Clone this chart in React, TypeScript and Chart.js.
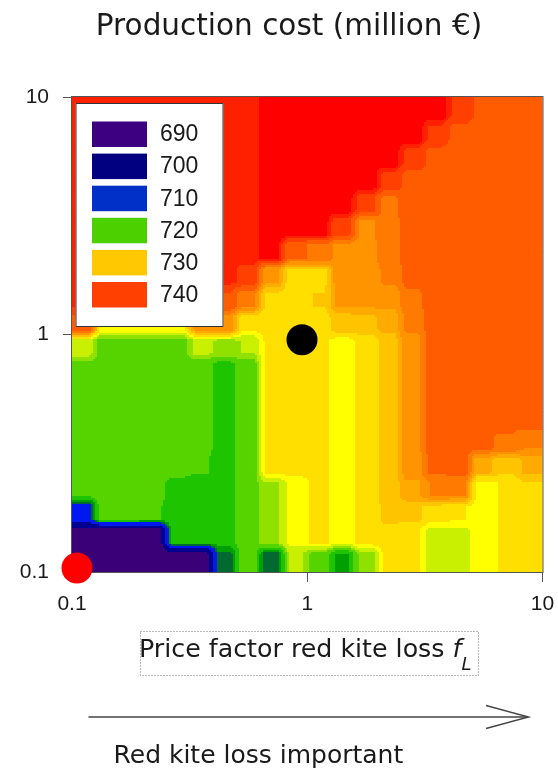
import React, { useEffect, useRef } from 'react';
import { Chart, registerables } from 'chart.js';

Chart.register(...registerables);

// ---- axis ticks ----
const xTickValues = [0.1, 1, 10];
const xTickLabels = ['0.1', '1', '10'];
const yTickValues = [0.1, 1, 10];
const yTickLabels = ['0.1', '1', '10'];

// ---- legend ----
const legendValues = [690, 700, 710, 720, 730, 740];
const legendColors = ['#3d0080', '#000080', '#0030c8', '#4cd000', '#ffc800', '#ff4000'];

// ---- colour bands of the production cost map (million €) ----
const bandLimits = [695, 704, 710.5, 713, 715.5, 718.3, 721.3, 723.5, 725.8, 728, 730.5, 732.5, 734.5, 737, 739.5, 742.3, 744.5, 746];
const bandColors = [
  '#3a0078', '#000090', '#0018f0', '#006a30', '#00a000', '#1ec400', '#55d400', '#90e000', '#c8f000',
  '#ffff00', '#ffdf00', '#ffc400', '#ffaa00', '#ff9400', '#ff7a00', '#ff5c00', '#ff4000', '#ff2000', '#ff0000',
];

// ---- markers ----
const markerX = [0.95, 0.105];
const markerY = [0.95, 0.104];
const markerColors = ['#000000', '#ff0000'];

// ---- cost grid: 20 x 20 cells, log10 range -1..1, rows from top (y = 10) to bottom (y = 0.1) ----
const gridLogMin = -1;
const gridLogMax = 1;
const costRows: number[][] = [
  [745, 745, 745, 745, 745, 745, 745, 745, 747, 747, 747, 747, 747, 747, 747, 747, 744, 742, 741, 741],
  [745, 745, 745, 745, 745, 745, 745, 745, 747, 747, 747, 747, 747, 747, 747, 744, 741.5, 741, 741, 741],
  [745, 745, 745, 745, 745, 745, 745, 745, 747, 747, 747, 747, 747, 747, 744, 741.5, 741, 741, 741, 741],
  [745, 745, 745, 745, 745, 745, 745, 745, 747, 747, 747, 747, 747, 744, 741.5, 741, 741, 741, 741, 741],
  [745, 745, 745, 745, 745, 745, 745, 745, 747, 747, 747, 747, 743.5, 739, 741, 741, 741, 741, 741, 741],
  [745, 745, 745, 745, 745, 745, 745, 745, 747, 747, 747, 743, 736.5, 738.5, 741, 741, 741, 741, 741, 741],
  [745, 745, 745, 745, 745, 745, 745, 745, 747, 740, 739, 736, 736, 738.5, 741, 741, 741, 741, 741, 741],
  [745, 745, 745, 745, 745, 745, 745, 744, 735, 729, 730, 735.5, 735.5, 737.5, 740.5, 741, 741, 741, 741, 741],
  [745, 745, 745, 745, 745, 745, 742, 738, 730, 729, 730.5, 735, 735, 735, 739, 741, 741, 741, 741, 741],
  [742, 727.5, 727.5, 727.5, 727.5, 735, 736, 729, 729, 729, 729.5, 731.5, 732, 733, 737.5, 741, 741, 741, 741, 741],
  [725, 720, 720, 720, 720, 724, 723, 723.5, 728.5, 729, 728.6, 727, 729, 731.5, 736, 741, 741, 741, 741, 741],
  [720, 720, 720, 720, 720, 719.5, 717, 720, 728.5, 729, 728.6, 727, 729, 731.5, 736, 741, 741, 741, 741, 741],
  [720, 720, 720, 720, 720, 719.5, 717, 720, 728.5, 729, 728.6, 727, 729, 731.5, 736, 741, 741, 741, 741, 741],
  [720, 720, 720, 720, 720, 719.5, 717, 720, 728.5, 729, 728.6, 727, 729, 731.5, 736, 741, 741, 741, 741, 741],
  [720, 720, 720, 720, 720, 719.5, 717, 720, 728.5, 729, 728.6, 727, 729, 731.5, 736, 741, 741, 740, 739, 737],
  [720, 720, 720, 720, 719, 718.5, 717, 720, 728.5, 729, 728.6, 727, 729, 731.5, 736, 740, 741, 733, 731, 733],
  [719, 720, 720, 719, 717.5, 717, 717, 720, 723.3, 726.5, 728.6, 727, 729, 731.5, 734, 737, 737, 727, 728.2, 730.3],
  [708, 720, 720, 718.5, 717, 717, 717, 720, 723.3, 726.5, 728.6, 727, 729, 731, 731, 729.5, 728, 727, 728.3, 730.3],
  [690, 691, 691, 691, 716, 716, 717, 720, 723.3, 726.5, 728.6, 727, 729, 730, 728.5, 724.5, 725, 727, 728.3, 730.3],
  [690, 690, 690, 690, 690, 693, 712, 720, 711, 724, 720, 715, 722, 728.5, 728.5, 724.5, 725, 727, 728.3, 730.3],
];

// ---- texts ----
const titleText = 'Production cost (million €)';
const xTitleText = 'Price factor red kite loss ';
const xTitleVar = 'f';
const xTitleSub = 'L';
const arrowText = 'Red kite loss important';

const clamp = (v: number, lo: number, hi: number) => Math.max(lo, Math.min(hi, v));
const sharpen = (t: number) => clamp((t - 0.5) / 0.45 + 0.5, 0, 1);

function sampleCost(lx: number, ly: number): number {
  const ny = costRows.length;
  const nx = costRows[0].length;
  const span = gridLogMax - gridLogMin;
  const u = ((lx - gridLogMin) / span) * nx - 0.5;
  const v = ((gridLogMax - ly) / span) * ny - 0.5;
  const i0 = Math.floor(u);
  const j0 = Math.floor(v);
  const tu = sharpen(u - i0);
  const tv = sharpen(v - j0);
  const c = (i: number, j: number) => costRows[clamp(j, 0, ny - 1)][clamp(i, 0, nx - 1)];
  const top = (1 - tu) * c(i0, j0) + tu * c(i0 + 1, j0);
  const bot = (1 - tu) * c(i0, j0 + 1) + tu * c(i0 + 1, j0 + 1);
  return (1 - tv) * top + tv * bot;
}

function colorFor(value: number): string {
  for (let k = 0; k < bandLimits.length; k++) {
    if (value < bandLimits[k]) return bandColors[k];
  }
  return bandColors[bandColors.length - 1];
}

const heatmapPlugin = {
  id: 'costHeatmap',
  beforeDatasetsDraw(chart: any) {
    const { ctx, chartArea: a, scales } = chart;
    const xs = scales.x;
    const ys = scales.y;
    const steps = 236;
    ctx.save();
    ctx.beginPath();
    ctx.rect(a.left, a.top, a.right - a.left, a.bottom - a.top);
    ctx.clip();
    const span = gridLogMax - gridLogMin;
    for (let i = 0; i < steps; i++) {
      const lxa = gridLogMin + (span * i) / steps;
      const lxb = gridLogMin + (span * (i + 1)) / steps;
      const px0 = xs.getPixelForValue(Math.pow(10, lxa));
      const px1 = xs.getPixelForValue(Math.pow(10, lxb));
      for (let j = 0; j < steps; j++) {
        const lya = gridLogMin + (span * j) / steps;
        const lyb = gridLogMin + (span * (j + 1)) / steps;
        const py0 = ys.getPixelForValue(Math.pow(10, lya));
        const py1 = ys.getPixelForValue(Math.pow(10, lyb));
        const val = sampleCost((lxa + lxb) / 2, (lya + lyb) / 2);
        ctx.fillStyle = colorFor(val);
        const x0 = Math.floor(px0);
        const y0 = Math.floor(py1);
        ctx.fillRect(x0, y0, Math.ceil(px1) - x0, Math.ceil(py0) - y0);
      }
    }
    ctx.restore();

    // frame
    ctx.save();
    ctx.strokeStyle = '#555555';
    ctx.lineWidth = 1;
    ctx.strokeRect(a.left - 0.5, a.top - 0.5, a.right - a.left + 1, a.bottom - a.top + 1);
    ctx.restore();

    // legend box
    ctx.save();
    const lx = a.left + 3.5;
    const ly = a.top + 6;
    const lw = 148;
    const lh = 224;
    ctx.fillStyle = '#ffffff';
    ctx.fillRect(lx, ly, lw, lh);
    ctx.strokeStyle = '#333333';
    ctx.lineWidth = 1;
    ctx.strokeRect(lx + 0.5, ly + 0.5, lw - 1, lh - 1);
    ctx.font = '23px "Liberation Sans", Arial, sans-serif';
    ctx.textBaseline = 'middle';
    ctx.textAlign = 'left';
    for (let k = 0; k < legendValues.length; k++) {
      const sy = ly + 18.5 + k * 32.1;
      ctx.fillStyle = legendColors[k];
      ctx.fillRect(lx + 16.5, sy, 55, 25.5);
      ctx.fillStyle = '#1a1a1a';
      ctx.fillText(String(legendValues[k]), lx + 84.5, sy + 13.5);
    }
    ctx.restore();
  },
};

function CostChart() {
  const canvasRef = useRef<HTMLCanvasElement | null>(null);

  useEffect(() => {
    const canvas = canvasRef.current;
    if (!canvas) return;
    const chart = new Chart(canvas, {
      type: 'scatter',
      data: {
        datasets: [
          {
            data: markerX.map((x, i) => ({ x, y: markerY[i] })),
            backgroundColor: markerColors,
            borderWidth: 0,
            pointRadius: 15.5,
            pointHoverRadius: 15.5,
            clip: false as any,
          },
        ],
      },
      options: {
        animation: false,
        responsive: false,
        devicePixelRatio: 1,
        events: [],
        layout: { padding: { left: 0, right: 15, top: 97, bottom: 152 } },
        plugins: {
          legend: { display: false },
          tooltip: { enabled: false },
          title: { display: false },
        },
        scales: {
          x: {
            type: 'logarithmic',
            position: 'bottom',
            min: 0.1,
            max: 10,
            afterBuildTicks: (scale: any) => {
              scale.ticks = xTickValues.map((v) => ({ value: v }));
            },
            afterFit: (scale: any) => {
              scale.height = 50;
              scale.paddingLeft = 0;
              scale.paddingRight = 0;
            },
            ticks: {
              autoSkip: false,
              maxRotation: 0,
              padding: 10,
              color: '#1a1a1a',
              font: { family: '"Liberation Sans", Arial, sans-serif', size: 21 },
              callback: (_v: any, i: number) => xTickLabels[i],
            },
            grid: { drawOnChartArea: false, drawTicks: true, tickLength: 10, color: '#555555' },
            border: { display: false },
          },
          y: {
            type: 'logarithmic',
            position: 'left',
            min: 0.1,
            max: 10,
            afterBuildTicks: (scale: any) => {
              scale.ticks = yTickValues.map((v) => ({ value: v }));
            },
            afterFit: (scale: any) => {
              scale.width = 72;
              scale.paddingTop = 0;
              scale.paddingBottom = 0;
            },
            ticks: {
              autoSkip: false,
              padding: 14,
              color: '#1a1a1a',
              font: { family: '"Liberation Sans", Arial, sans-serif', size: 21 },
              callback: (_v: any, i: number) => yTickLabels[i],
            },
            grid: { drawOnChartArea: false, drawTicks: true, tickLength: 9, color: '#555555' },
            border: { display: false },
          },
        },
      },
      plugins: [heatmapPlugin],
    } as any);
    return () => chart.destroy();
  }, []);

  return (
    <canvas
      ref={canvasRef}
      width={558}
      height={774}
      style={{ position: 'absolute', left: 0, top: 0, width: 558, height: 774 }}
    />
  );
}

export default function App() {
  const font = '"DejaVu Sans", Verdana, sans-serif';
  return (
    <div style={{ position: 'absolute', left: 0, top: 0, width: 558, height: 774, background: '#ffffff' }}>
      <CostChart />
      <svg
        width={558}
        height={774}
        style={{ position: 'absolute', left: 0, top: 0, pointerEvents: 'none' }}
      >
        <text x={289} y={35} textAnchor="middle" fontFamily={font} fontSize={29.5} fill="#1a1a1a">
          {titleText}
        </text>
        <rect x={140.5} y={631.5} width={338} height={44} fill="none" stroke="#777777" strokeWidth={1} strokeDasharray="1 2" />
        <text x={139} y={657} fontFamily={font} fontSize={25.3} fill="#1a1a1a">
          {xTitleText}
          <tspan fontStyle="italic">{xTitleVar}</tspan>
          <tspan fontStyle="italic" fontSize={18} dy={13}>{xTitleSub}</tspan>
        </text>
        <line x1={88.5} y1={717} x2={528} y2={717} stroke="#444444" strokeWidth={1.5} />
        <polyline points="486,705.5 528.5,717 486,728.5" fill="none" stroke="#444444" strokeWidth={1.5} />
        <text x={113.5} y={763} fontFamily={font} fontSize={25} fill="#1a1a1a">
          {arrowText}
        </text>
      </svg>
    </div>
  );
}
